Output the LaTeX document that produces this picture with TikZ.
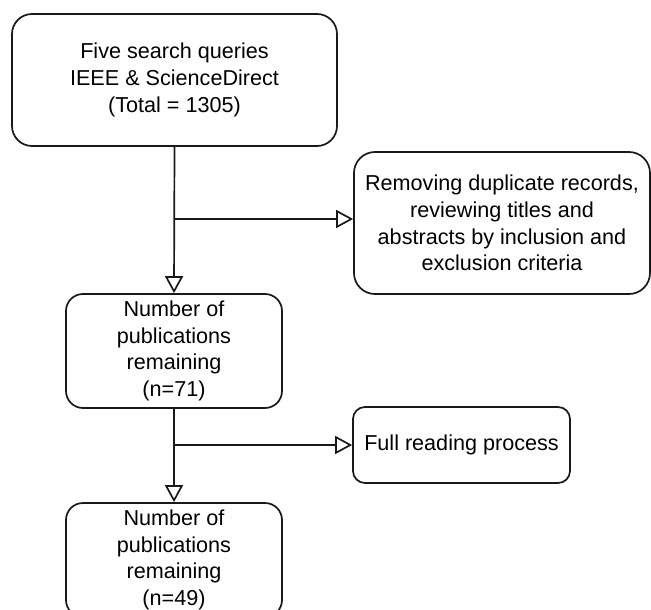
\documentclass[tikz,border=0pt]{standalone}
\usepackage{fontspec}
\setmainfont{Liberation Sans}
\usetikzlibrary{arrows.meta}
\begin{document}
\begin{tikzpicture}[x=1pt,y=-1pt,
  box/.style={draw=black!90, line width=1.7pt, fill=white, align=center, inner sep=0pt,
    font=\fontsize{21.6}{26.8}\selectfont},
  flow/.style={draw=black!90, line width=1.7pt, -{Triangle[open,length=17pt,width=18pt,line width=1.7pt]}}]
\useasboundingbox (0,0) rectangle (651,610);
\node[box, minimum width=325pt, minimum height=132pt, rounded corners=20pt] (top) at (174.5,80) {Five search queries\\IEEE \& ScienceDirect\\(Total = 1305)};
\node[box, minimum width=296pt, minimum height=142pt, rounded corners=21pt] (rem) at (502,223) {Removing duplicate records,\\reviewing titles and\\abstracts by inclusion and\\exclusion criteria};
\node[box, minimum width=216pt, minimum height=114pt, rounded corners=17pt] (n71) at (174,351) {Number of\\publications\\remaining\\(n=71)};
\node[box, minimum width=217pt, minimum height=76pt, rounded corners=12pt] (full) at (461.5,445) {Full reading process};
\node[box, minimum width=216pt, minimum height=114pt, rounded corners=17pt] (n49) at (174,560) {Number of\\publications\\remaining\\(n=49)};
\coordinate (j1) at (174,219);
\coordinate (j2) at (174,445);
\draw[flow] (top.south) -- (n71.north);
\draw[flow] (j1) -- (j1 -| rem.west);
\draw[flow] (n71.south) -- (n49.north);
\draw[flow] (j2) -- (j2 -| full.west);
\end{tikzpicture}
\end{document}
